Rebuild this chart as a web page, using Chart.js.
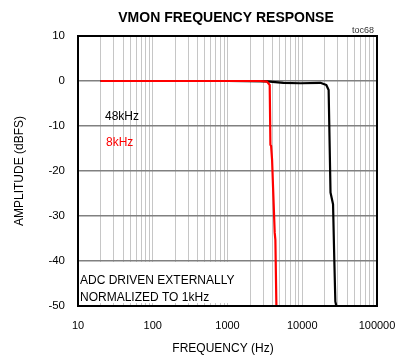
<!DOCTYPE html>
<html>
<head>
<meta charset="utf-8">
<title>VMON Frequency Response</title>
<script src="https://cdn.jsdelivr.net/npm/chart.js@4.4.1/dist/chart.umd.min.js"></script>
<style>
  html, body { margin: 0; padding: 0; background: #fff; }
  #chart { display: block; }
</style>
</head>
<body>
<canvas id="chart" width="396" height="358"></canvas>
<script>
// Data (Hz, dBFS)
const freq48k = [20, 100, 1000, 3380, 5590, 9440, 17470, 20990, 22540, 23390, 23880, 25820, 26870, 27720, 28560];
const amp48k  = [0, 0, 0, -0.1, -0.4, -0.5, -0.4, -0.9, -2.0, -16.5, -24.8, -27.4, -40, -49, -50];

const freq8k = [20, 100, 1000, 2750, 3380, 3670, 3750, 3830, 3950, 4070, 4280, 4370, 4510];
const amp8k  = [0, 0, 0, 0, -0.15, -0.9, -14.2, -14.4, -17.6, -23.7, -33.7, -35.3, -50];

const xTickLabels = [10, 100, 1000, 10000, 100000];
const yTickLabels = [10, 0, -10, -20, -30, -40, -50];

const FONT = 'Liberation Sans, Arial, Helvetica, sans-serif';
Chart.defaults.font.family = FONT;
Chart.defaults.color = '#000';

function toPoints(xs, ys) {
  return xs.map((x, i) => ({ x: x, y: ys[i] }));
}

// gridlines at 1..9 x each decade
function decadeGrid() {
  const out = [];
  for (let d = 0; d < xTickLabels.length - 1; d++) {
    for (let m = 1; m <= 9; m++) out.push(xTickLabels[d] * m);
  }
  out.push(xTickLabels[xTickLabels.length - 1]);
  return out;
}

// Text, note box and frame
const decorPlugin = {
  id: 'decor',
  beforeDatasetsDraw(chart) {
    const ctx = chart.ctx;
    const a = chart.chartArea;
    ctx.save();
    // white box behind the note
    ctx.fillStyle = '#fff';
    ctx.fillRect(a.left, 262, 160, 41);

    ctx.textAlign = 'left';
    ctx.textBaseline = 'alphabetic';
    ctx.font = '12px ' + FONT;
    ctx.fillStyle = '#000';
    ctx.fillText('ADC DRIVEN EXTERNALLY', a.left + 2, 283.5);
    ctx.fillText('NORMALIZED TO 1kHz', a.left + 2, 300.5);

    ctx.fillText('48kHz', 105, 119.5);
    ctx.fillStyle = '#ff0000';
    ctx.fillText('8kHz', 106, 145.5);
    ctx.restore();
  },
  afterDatasetsDraw(chart) {
    const ctx = chart.ctx;
    const a = chart.chartArea;
    ctx.save();
    ctx.strokeStyle = '#000';
    ctx.lineWidth = 2;
    ctx.strokeRect(a.left, a.top, a.right - a.left, a.bottom - a.top);

    // title
    ctx.fillStyle = '#000';
    ctx.textAlign = 'center';
    ctx.textBaseline = 'alphabetic';
    ctx.font = 'bold 14px ' + FONT;
    ctx.fillText('VMON FREQUENCY RESPONSE', 226, 22);

    // figure tag
    ctx.textAlign = 'right';
    ctx.font = '9px ' + FONT;
    ctx.fillStyle = '#333';
    ctx.fillText('toc68', 374, 33);

    // axis titles
    ctx.fillStyle = '#000';
    ctx.textAlign = 'center';
    ctx.font = '12px ' + FONT;
    ctx.fillText('FREQUENCY (Hz)', 223, 352);

    ctx.translate(23, (a.top + a.bottom) / 2);
    ctx.rotate(-Math.PI / 2);
    ctx.fillText('AMPLITUDE (dBFS)', 0, 0);
    ctx.restore();
  }
};

new Chart(document.getElementById('chart'), {
  type: 'line',
  data: {
    datasets: [
      {
        label: '8kHz',
        data: toPoints(freq8k, amp8k),
        borderColor: '#ff0000',
        borderWidth: 2.2,
        order: 0
      },
      {
        label: '48kHz',
        data: toPoints(freq48k, amp48k),
        borderColor: '#000000',
        borderWidth: 2.2,
        order: 1
      }
    ]
  },
  options: {
    responsive: false,
    animation: false,
    devicePixelRatio: 1,
    layout: { padding: { top: 36, right: 19, bottom: 0, left: 0 } },
    elements: {
      point: { radius: 0 },
      line: { tension: 0, borderCapStyle: 'butt', borderJoinStyle: 'round' }
    },
    plugins: {
      legend: { display: false },
      tooltip: { enabled: false },
      title: { display: false }
    },
    scales: {
      x: {
        type: 'logarithmic',
        min: 10,
        max: 100000,
        afterBuildTicks(scale) {
          scale.ticks = decadeGrid().map(v => ({ value: v }));
        },
        afterFit(scale) {
          scale.height = 52;
          // keep edge labels from shrinking the plot
          scale.paddingLeft = 0;
          scale.paddingRight = 0;
        },
        grid: { color: '#c6c6c6', lineWidth: 1, drawTicks: false },
        border: { display: false },
        ticks: {
          autoSkip: false,
          maxRotation: 0,
          minRotation: 0,
          padding: 13,
          font: { size: 11 },
          callback: v => (xTickLabels.includes(v) ? String(v) : '')
        }
      },
      y: {
        min: -50,
        max: 10,
        afterBuildTicks(scale) {
          scale.ticks = yTickLabels.map(v => ({ value: v }));
        },
        afterFit(scale) {
          scale.width = 78;
          scale.paddingTop = 0;
          scale.paddingBottom = 0;
        },
        grid: { color: '#808080', lineWidth: 1.6, drawTicks: false },
        border: { display: false },
        ticks: {
          padding: 13,
          font: { size: 11.5 },
          callback: v => String(v)
        }
      }
    }
  },
  plugins: [decorPlugin]
});
</script>
</body>
</html>
